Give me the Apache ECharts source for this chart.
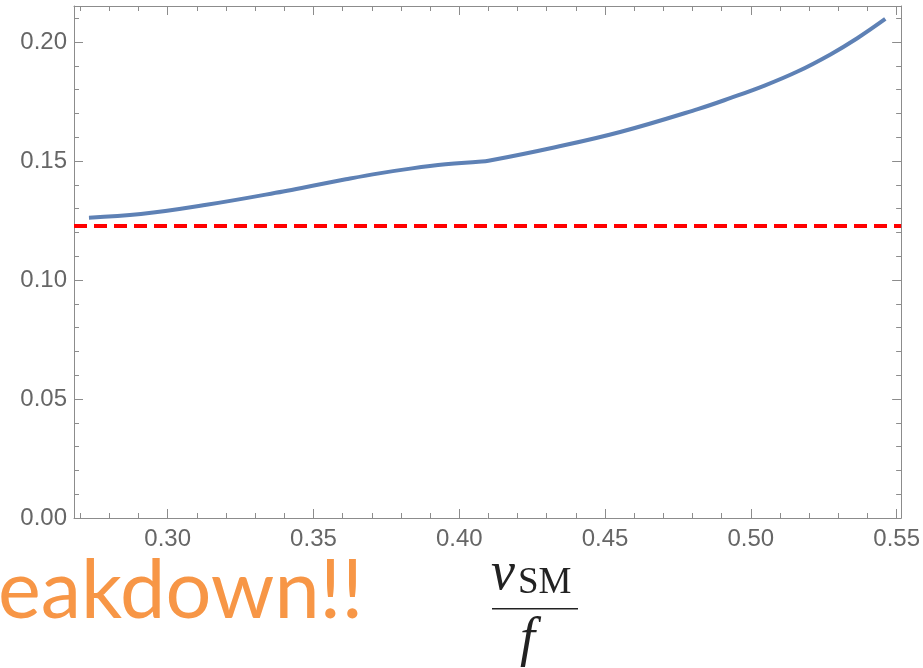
<!DOCTYPE html>
<html>
<head>
<meta charset="utf-8">
<style>html,body{margin:0;padding:0;background:#fff}#c{width:923px;height:668px}</style>
<script src="https://cdn.jsdelivr.net/npm/echarts@6/dist/echarts.min.js"></script>
</head>
<body>
<div id="c"></div>
<script>
// ---- data ----
var curveX = [0.2730, 0.2908, 0.3133, 0.3396, 0.3497, 0.3611, 0.3725, 0.3838, 0.3953, 0.4066, 0.4100, 0.4329, 0.4555, 0.4818, 0.4931, 0.5047, 0.5160, 0.5273, 0.5365, 0.5461];
var curveY = [0.1262, 0.1277, 0.1316, 0.1372, 0.1396, 0.1423, 0.1448, 0.1469, 0.1486, 0.1497, 0.1501, 0.1558, 0.1623, 0.1718, 0.1765, 0.1817, 0.1876, 0.1948, 0.2016, 0.2097];
var thresholdY = 0.1227;
var xMajorTicks = [0.30, 0.35, 0.40, 0.45, 0.50, 0.55];
var xMinorTicks = [0.27, 0.28, 0.29, 0.31, 0.32, 0.33, 0.34, 0.36, 0.37, 0.38, 0.39, 0.41, 0.42, 0.43, 0.44, 0.46, 0.47, 0.48, 0.49, 0.51, 0.52, 0.53, 0.54];
var yMajorTicks = [0.00, 0.05, 0.10, 0.15, 0.20];
var yMinorTicks = [0.01, 0.02, 0.03, 0.04, 0.06, 0.07, 0.08, 0.09, 0.11, 0.12, 0.13, 0.14, 0.16, 0.17, 0.18, 0.19, 0.21];
var xMin = 0.26787, xMax = 0.55154;
var yMin = 0, yMax = 0.21513;

var axisColor = '#8c8c8c';
var labelColor = '#666666';

function xAxisDef(pos, ticks, len, showLabel, showLine) {
  return {
    type: 'value', position: pos, min: xMin, max: xMax, gridIndex: 0,
    axisLine: {show: showLine, onZero: false, lineStyle: {color: axisColor, width: 1}},
    axisTick: {show: true, inside: true, length: len, customValues: ticks, lineStyle: {color: axisColor, width: 1}},
    axisLabel: showLabel ? {show: true, customValues: ticks, color: labelColor, fontSize: 24, fontFamily: 'Liberation Sans', margin: 9,
      formatter: function (v) { return v.toFixed(2); }} : {show: false},
    splitLine: {show: false}
  };
}
function yAxisDef(pos, ticks, len, showLabel, showLine) {
  return {
    type: 'value', position: pos, min: yMin, max: yMax, gridIndex: 0,
    axisLine: {show: showLine, onZero: false, lineStyle: {color: axisColor, width: 1}},
    axisTick: {show: true, inside: true, length: len, customValues: ticks, lineStyle: {color: axisColor, width: 1}},
    axisLabel: showLabel ? {show: true, customValues: ticks, color: labelColor, fontSize: 24, fontFamily: 'Liberation Sans', margin: 7,
      formatter: function (v) { return v.toFixed(2); }} : {show: false},
    splitLine: {show: false}
  };
}

var chart = echarts.init(document.getElementById('c'), null, {renderer: 'canvas'});
var curveData = curveX.map(function (x, i) { return [x, curveY[i]]; });

chart.setOption({
  animation: false,
  backgroundColor: '#ffffff',
  grid: {left: 74, right: 19, top: 6, bottom: 150, containLabel: false},
  xAxis: [
    xAxisDef('bottom', xMajorTicks, 9, true, true),
    xAxisDef('bottom', xMinorTicks, 5, false, false),
    xAxisDef('top', xMajorTicks, 9, false, true),
    xAxisDef('top', xMinorTicks, 5, false, false)
  ],
  yAxis: [
    yAxisDef('left', yMajorTicks, 9, true, true),
    yAxisDef('left', yMinorTicks, 5, false, false),
    yAxisDef('right', yMajorTicks, 9, false, true),
    yAxisDef('right', yMinorTicks, 5, false, false)
  ],
  series: [
    {
      type: 'line', xAxisIndex: 0, yAxisIndex: 0,
      data: [[xMin, thresholdY], [xMax, thresholdY]],
      showSymbol: false, symbol: 'none',
      lineStyle: {color: '#ff0000', width: 4, type: [13, 7]},
      z: 3
    },
    {
      type: 'line', xAxisIndex: 0, yAxisIndex: 0,
      data: curveData, smooth: 0.4, showSymbol: false, symbol: 'none',
      lineStyle: {color: '#5e81b5', width: 4},
      z: 4
    }
  ],
  graphic: [
    {type: 'text', left: -2, top: 551, style: {text: 'eakdown!!', font: '81px Lato', fill: '#f79646'}},
    {type: 'text', left: 491, top: 548, style: {text: 'v', font: 'italic 54px "Liberation Serif"', fill: '#222'}},
    {type: 'text', left: 518, top: 565, style: {text: 'SM', font: '37px "Liberation Serif"', fill: '#222'}},
    {type: 'rect', shape: {x: 492, y: 608, width: 86, height: 1.6}, style: {fill: '#222'}},
    {type: 'text', left: 520, top: 614, style: {text: 'f', font: 'italic 54px "Liberation Serif"', fill: '#222'}}
  ]
});
</script>
</body>
</html>
